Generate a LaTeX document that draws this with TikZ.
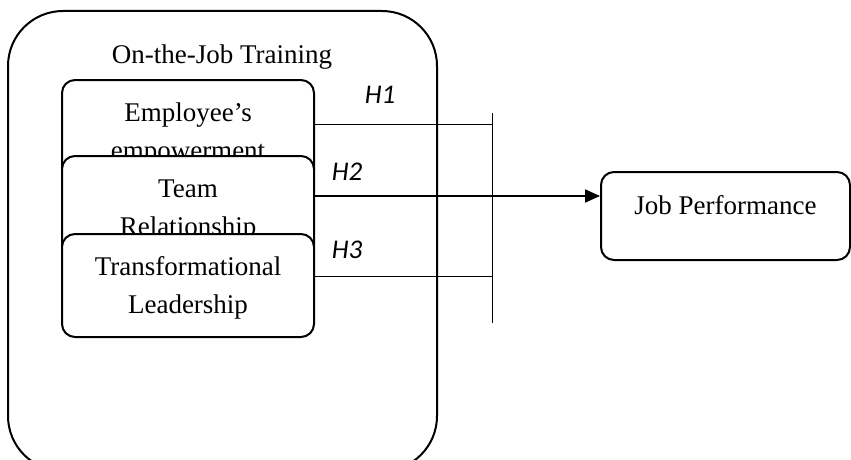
\documentclass[tikz,border=0pt]{standalone}
\usepackage{fontspec}
\setmainfont{Liberation Serif}
\newfontfamily\hfont{Carlito}
\usetikzlibrary{arrows.meta}
\begin{document}
\begin{tikzpicture}[x=1pt,y=-1pt,
	factor/.style={draw,line width=2pt,rounded corners=13pt,fill=white,align=center,
		minimum width=252pt,minimum height=103pt,inner sep=0pt,text height=62pt,
		font=\fontsize{27}{38}\selectfont},
	hyp/.style={font=\hfont\itshape\fontsize{27}{32}\selectfont},
	link/.style={line width=1pt}]
				\useasboundingbox (0,0) rectangle (851,460);
				\clip (0,0) rectangle (851,460);
				\node[draw,line width=2pt,rounded corners=55pt,minimum width=429pt,minimum height=460pt,inner sep=0pt] (train) at (222.5,241) {};
				\node[font=\fontsize{27}{38}\selectfont] (traintitle) at (222,57) {On-the-Job Training};
				%--
				\node[factor] (emp) at (188,131.5) {Employee's\\empowerment};
				\node[factor] (team) at (188,207.5) {Team\\Relationship};
				\node[factor] (trans) at (188,285.5) {Transformational\\Leadership};
				%--
				\node[factor,minimum width=249pt,minimum height=88pt,text height=19pt,text depth=22pt] (perf) at (725.5,216) {Job Performance};
				%--
				\coordinate (bartop) at (492,113);
				\coordinate (barbot) at (492,323);
				\coordinate (h1end) at (492,124);
				\coordinate (h3end) at (492,276);
				\draw[link] (bartop) -- (barbot);
				\draw[link] ([yshift=7.5pt]emp.east) -- (h1end);
				\draw[link] ([yshift=9.5pt]trans.east) -- (h3end);
				\draw[line width=2pt,-{Triangle[length=15pt,width=13pt]}] ([yshift=11.5pt]team.east) -- ([yshift=20pt]perf.west);
				%--
				\node[hyp] (h1) at (380,95) {H1};
				\node[hyp] (h2) at (347,172) {H2};
				\node[hyp] (h3) at (347,250) {H3};
			\end{tikzpicture}
\end{document}
